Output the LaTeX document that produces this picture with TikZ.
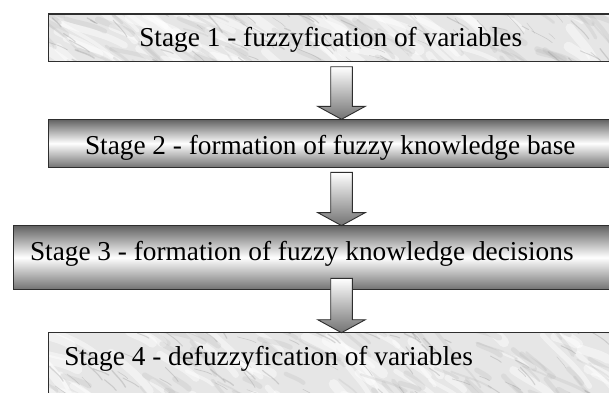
\documentclass[tikz,border=0pt]{standalone}
\usepackage{fontspec}
\setmainfont{Liberation Serif}
\usetikzlibrary{calc}
\definecolor{marblebg}{HTML}{E6E6E6}
\definecolor{edgecol}{HTML}{2E2E2E}
\tikzset{
  stagebox/.style={draw=edgecol, line width=1.2pt, anchor=north west,
    inner sep=0pt, outer sep=0pt, minimum width=#1},
  marblebox/.style={fill=marblebg},
  metalbox/.style={top color=black!62, bottom color=black!55, middle color=white,
    shading angle=0},
  stagetext/.style={anchor=base west, inner sep=0pt, outer sep=0pt,
    font=\fontsize{27.3pt}{32pt}\selectfont, text=black},
  flowarrow/.style={draw=edgecol, line width=0.9pt, top color=white,
    bottom color=black!55, line join=miter},
}
\newcommand\marbletexture[5]{%
  \pgfmathsetseed{#1}%
  \foreach \i in {1,...,60}{%
    \pgfmathsetmacro\px{#2+(#3-#2)*rnd}%
    \pgfmathsetmacro\py{#4+(#5-#4)*rnd}%
    \pgfmathsetmacro\ang{15+40*rnd}%
    \pgfmathsetmacro\len{20+50*rnd}%
    \pgfmathsetmacro\lw{3+8*rnd}%
    \draw[draw=white, line width=\lw pt, line cap=round, opacity=0.45]
      (\px,\py) .. controls +(\ang:\len*0.4) and +(\ang+190:\len*0.4) .. +(\ang:\len);
  }%
  \foreach \i in {1,...,70}{%
    \pgfmathsetmacro\px{#2+(#3-#2)*rnd}%
    \pgfmathsetmacro\py{#4+(#5-#4)*rnd}%
    \pgfmathsetmacro\ang{15+40*rnd}%
    \pgfmathsetmacro\len{15+40*rnd}%
    \pgfmathsetmacro\lw{1.5+5*rnd}%
    \draw[draw=black!35, line width=\lw pt, line cap=round, opacity=0.18]
      (\px,\py) .. controls +(\ang:\len*0.4) and +(\ang+190:\len*0.4) .. +(\ang:\len);
  }%
  \foreach \i in {1,...,80}{%
    \pgfmathsetmacro\px{#2+(#3-#2)*rnd}%
    \pgfmathsetmacro\py{#4+(#5-#4)*rnd}%
    \pgfmathsetmacro\ang{15+40*rnd}%
    \pgfmathsetmacro\len{6+22*rnd}%
    \pgfmathsetmacro\lw{0.4+1.0*rnd}%
    \draw[draw=black!45, line width=\lw pt, line cap=round, opacity=0.3]
      (\px,\py) .. controls +(\ang:\len*0.4) and +(\ang+190:\len*0.4) .. +(\ang:\len);
  }%
}
\begin{document}
\begin{tikzpicture}[x=1pt, y=-1pt]
  \useasboundingbox (0,0) rectangle (609,392);
  \clip (0,0) rectangle (609,392);
  \fill[white] (0,0) rectangle (609,392);

  % Stage boxes (all centred on x = 341.5, running past the right edge)
  \node[stagebox=586.4pt, marblebox, minimum height=47.7pt] (s1) at (48.3,14) {};
  \node[stagebox=586.4pt, metalbox, minimum height=48pt] (s2) at (48.3,119.3) {};
  \node[stagebox=656.4pt, metalbox, minimum height=63.8pt] (s3) at (13.3,225.6) {};
  \node[stagebox=586.4pt, marblebox, minimum height=80pt] (s4) at (48.3,332.7) {};

  % marble texture
  \begin{scope}
    \clip (s1.north west) rectangle (s1.south east);
    \marbletexture{11}{30}{620}{0}{66}
  \end{scope}
  \begin{scope}
    \clip (s4.north west) rectangle (s4.south east);
    \marbletexture{23}{30}{620}{318}{400}
  \end{scope}
  \draw[draw=edgecol, line width=1.2pt] (s1.north west) rectangle (s1.south east);
  \draw[draw=edgecol, line width=1.2pt] (s4.north west) rectangle (s4.south east);

  % Texts
  \node[stagetext] (t1) at (139.3,46) {Stage 1 - fuzzyfication of variables};
  \node[stagetext] (t2) at (85,154) {Stage 2 - formation of fuzzy knowledge base};
  \node[stagetext] (t3) at (30,260) {Stage 3 - formation of fuzzy knowledge decisions};
  \node[stagetext] (t4) at (64.3,365) {Stage 4 - defuzzyfication of variables};

  % Block arrows between the stages
  \coordinate (a1s) at ($(s1.south)+(0,5)$);
  \coordinate (a2s) at ($(s2.south)+(0,5)$);
  \coordinate (a3s) at ($(s3.south)+(0,-11)$);
  \foreach \st/\en in {a1s/s2, a2s/s3, a3s/s4}{
    \path[flowarrow] let \p1=(\st), \p2=(\en.north) in
      (\x1-10.8pt,\y1) -- (\x1+10.8pt,\y1) -- (\x1+10.8pt,\y2+13pt)
      -- (\x1+23.8pt,\y2+13pt) -- (\x2,\y2) -- (\x1-23.8pt,\y2+13pt)
      -- (\x1-10.8pt,\y2+13pt) -- cycle;
  }
\end{tikzpicture}
\end{document}
